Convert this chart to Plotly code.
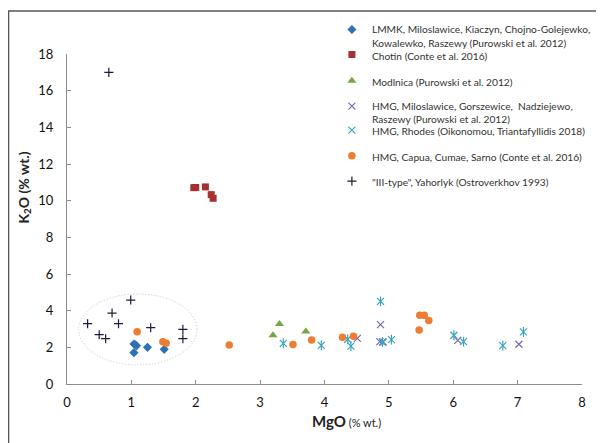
import plotly.graph_objects as go

# ---- data (MgO %, K2O %) ----
lmmk_mgo = [1.04, 1.08, 1.06, 1.25, 1.51, 1.04]
lmmk_k2o = [2.18, 2.09, 2.14, 2.00, 1.89, 1.71]

chotin_mgo = [1.97, 2.00, 2.15, 2.24, 2.27]
chotin_k2o = [10.71, 10.72, 10.75, 10.33, 10.13]

modlnica_mgo = [3.30, 3.20, 3.71]
modlnica_k2o = [3.27, 2.66, 2.87]

hmg_milo_mgo = [4.51, 4.87, 4.86, 4.91, 6.07, 7.02]
hmg_milo_k2o = [2.49, 3.24, 2.31, 2.29, 2.38, 2.17]

rhodes_mgo = [3.36, 3.95, 4.36, 4.41, 4.87, 4.90, 5.04, 6.01, 6.16, 6.77, 7.09]
rhodes_k2o = [2.22, 2.11, 2.44, 2.07, 4.51, 2.29, 2.42, 2.66, 2.31, 2.09, 2.84]

capua_mgo = [1.09, 1.49, 1.54, 2.52, 3.51, 3.80, 4.28, 4.45, 5.48, 5.55, 5.62, 5.47]
capua_k2o = [2.85, 2.31, 2.22, 2.13, 2.15, 2.40, 2.55, 2.60, 3.75, 3.75, 3.47, 2.95]

iii_mgo = [0.65, 0.99, 0.70, 0.32, 0.80, 1.30, 0.50, 0.60, 1.80, 1.80]
iii_k2o = [17.0, 4.58, 3.87, 3.29, 3.29, 3.07, 2.69, 2.47, 2.98, 2.47]

x_ticks = [0, 1, 2, 3, 4, 5, 6, 7, 8]
y_ticks = [0, 2, 4, 6, 8, 10, 12, 14, 16, 18]

names = [
    "LMMK, Miloslawice, Kiaczyn, Chojno-Golejewko,<br>Kowalewko, Raszewy (Purowski et al. 2012)",
    "Chotin (Conte et al. 2016)",
    "Modlnica (Purowski et al. 2012)",
    "HMG, Miloslawice, Gorszewice,  Nadziejewo,<br>Raszewy (Purowski et al. 2012)",
    "HMG, Rhodes (Oikonomou, Triantafyllidis 2018)",
    "HMG, Capua, Cumae, Sarno (Conte et al. 2016)",
    "\"III-type\", Yahorlyk (Ostroverkhov 1993)",
]
legend_ids = ["legend", "legend2", "legend3", "legend4", "legend5", "legend6", "legend7"]

fig = go.Figure()
fig.add_trace(go.Scatter(x=lmmk_mgo, y=lmmk_k2o, mode="markers", name=names[0],
                         legend=legend_ids[0],
                         marker=dict(symbol="diamond", size=7, color="#2e70b5")))
fig.add_trace(go.Scatter(x=chotin_mgo, y=chotin_k2o, mode="markers", name=names[1],
                         legend=legend_ids[1],
                         marker=dict(symbol="square", size=7, color="#a8302f")))
fig.add_trace(go.Scatter(x=modlnica_mgo, y=modlnica_k2o, mode="markers", name=names[2],
                         legend=legend_ids[2],
                         marker=dict(symbol="triangle-up", size=8, color="#74a645")))
fig.add_trace(go.Scatter(x=hmg_milo_mgo, y=hmg_milo_k2o, mode="markers", name=names[3],
                         legend=legend_ids[3],
                         marker=dict(symbol="x-thin-open", size=7, color="#7a6aa8",
                                     line=dict(width=1.2, color="#7a6aa8"))))
fig.add_trace(go.Scatter(x=rhodes_mgo, y=rhodes_k2o, mode="markers", name=names[4],
                         legend=legend_ids[4],
                         marker=dict(symbol="x-thin-open", size=7, color="#3aa3bd",
                                     line=dict(width=1.2, color="#3aa3bd"))))
fig.add_trace(go.Scatter(x=rhodes_mgo, y=rhodes_k2o, mode="markers", showlegend=False,
                         hoverinfo="skip",
                         marker=dict(symbol="line-ns-open", size=7, color="#3aa3bd",
                                     line=dict(width=1.2, color="#3aa3bd"))))
fig.add_trace(go.Scatter(x=capua_mgo, y=capua_k2o, mode="markers", name=names[5],
                         legend=legend_ids[5],
                         marker=dict(symbol="circle", size=7.5, color="#ed7d31")))
fig.add_trace(go.Scatter(x=iii_mgo, y=iii_k2o, mode="markers", name=names[6],
                         legend=legend_ids[6],
                         marker=dict(symbol="cross-thin-open", size=6.5, color="#1c1c3a",
                                     line=dict(width=1.2, color="#1c1c3a"))))

font_main = "Lato, 'Open Sans', sans-serif"

# The page body has an 8px margin, so the figure is drawn 8px smaller and
# everything lands at the reference pixel positions.
# Plot area in reference pixels: left 67.4, width 514.4; top 54, height 330
def px_to_paper_x(px):
    return (px - 67.4) / 514.4

def px_to_paper_y(py):
    return (384 - py) / 330

legend_line1 = [29.3, 54.3, 80.7, 106.0, 130.0, 155.7, 181.0]
legend_left = px_to_paper_x(332)

layout_legends = {}
for lid, c in zip(legend_ids, legend_line1):
    layout_legends[lid] = dict(
        x=legend_left, y=px_to_paper_y(c - 13), xanchor="left", yanchor="top",
        valign="top", font=dict(family=font_main, size=10.2, color="#333"),
        bgcolor="rgba(0,0,0,0)", itemwidth=30)

fig.update_layout(
    width=596, height=435,
    margin=dict(l=59.4, r=22.2, t=46, b=59, autoexpand=False),
    paper_bgcolor="white", plot_bgcolor="white",
    font=dict(family=font_main, size=13, color="#222"),
    showlegend=True,
    xaxis=dict(range=[0, 8], tickvals=x_ticks, showgrid=False, zeroline=False,
               showline=True, linecolor="#8c8c8c", linewidth=1.3,
               ticks="inside", ticklen=4, tickcolor="#8c8c8c", tickwidth=1.3,
               ticklabelstandoff=6, tickfont=dict(size=13, color="#111")),
    yaxis=dict(range=[0, 18], tickvals=y_ticks, showgrid=False, zeroline=False,
               showline=True, linecolor="#8c8c8c", linewidth=1.3,
               ticks="inside", ticklen=4, tickcolor="#8c8c8c", tickwidth=1.3,
               ticklabelstandoff=10, tickfont=dict(size=13, color="#111")),
    shapes=[
        dict(type="circle", xref="x", yref="y", x0=0.18, x1=2.02, y0=1.04, y1=4.91,
             line=dict(color="#c4c4c4", width=1, dash="1px,2px")),
        dict(type="rect", xref="paper", yref="paper",
             x0=px_to_paper_x(9), x1=px_to_paper_x(598),
             y0=px_to_paper_y(460), y1=px_to_paper_y(11),
             line=dict(color="#555", width=1.5)),
    ],
    annotations=[
        dict(text="<b>MgO</b><span style='font-size:11px'> (% wt.)</span>",
             xref="paper", yref="paper", x=px_to_paper_x(347), y=px_to_paper_y(421),
             xanchor="center", yanchor="middle", showarrow=False,
             font=dict(size=15, color="#222")),
        dict(text="<b>K<sub>2</sub>O (% wt.)</b>", textangle=-90,
             xref="paper", yref="paper", x=px_to_paper_x(25), y=px_to_paper_y(188),
             xanchor="center", yanchor="middle", showarrow=False,
             font=dict(size=14, color="#222")),
    ],
    **layout_legends,
)

fig.write_html("out.html")
